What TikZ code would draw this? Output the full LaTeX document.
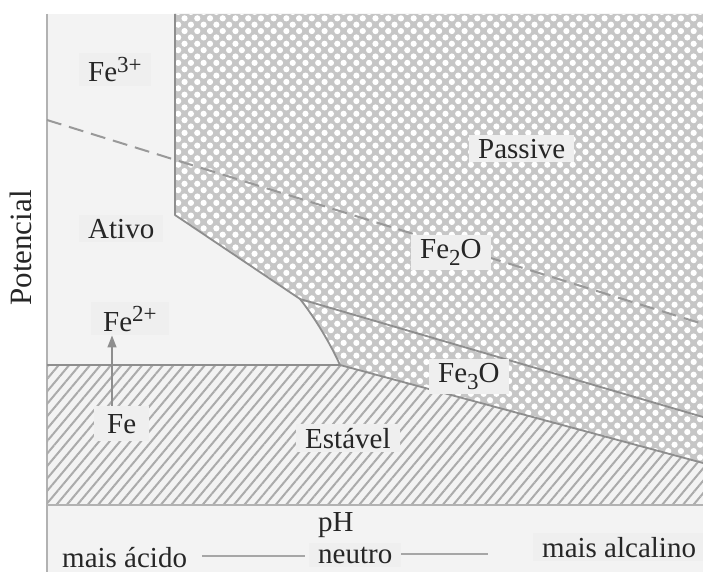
\documentclass[tikz,border=0pt]{standalone}
\usepackage{fontspec}
\setmainfont{Liberation Serif}
\usetikzlibrary{patterns.meta,arrows.meta}
\definecolor{framebg}{HTML}{F3F3F3}
\definecolor{xhbg}{HTML}{C6C6C6}
\definecolor{hatchc}{HTML}{ABABAB}
\definecolor{edgec}{HTML}{8E8E8E}
\definecolor{labbg}{HTML}{EFEFEF}
\newcommand{\supx}[1]{\raisebox{0.34em}{\fontsize{23}{23}\selectfont #1}}
\newcommand{\subx}[1]{\raisebox{-0.26em}{\fontsize{23}{23}\selectfont #1}}
\begin{document}
\begin{tikzpicture}[x=1pt,y=-1pt,
  lab/.style={fill=labbg, inner xsep=9pt, inner ysep=4pt, anchor=base west,
    font=\fontsize{29}{33}\selectfont, text=black!85},
  edge/.style={draw=edgec, line width=1.8pt, line join=round},
  arr/.style={draw=edgec, line width=1.6pt, -{Triangle[width=9pt,length=12pt]}}]
\useasboundingbox (0,0) rectangle (703,572);
\fill[white] (0,0) rectangle (703,572);
% frame background
\fill[framebg] (47,14) rectangle (703,572);
\draw[draw=black!30, line width=2pt] (47,14) -- (47,572);
% passive (cross-hatched) region
\path[fill=xhbg] (175,14) -- (703,14) -- (703,463) -- (340,365)
  .. controls (330,343) and (315,318) .. (300,299) -- (175,215) -- cycle;
\path[pattern={Dots[radius=3.1pt,distance=9pt,angle=45]}, pattern color=white]
  (175,14) -- (703,14) -- (703,463) -- (340,365)
  .. controls (330,343) and (315,318) .. (300,299) -- (175,215) -- cycle;
% stable (hatched) region
\path[pattern={Lines[angle=50,distance=8pt,line width=2pt]}, pattern color=hatchc]
  (47,365) -- (340,365) -- (703,463) -- (703,505) -- (47,505) -- cycle;
% boundaries
\coordinate (p1) at (175,14);
\coordinate (p2) at (175,215);
\coordinate (p3) at (300,299);
\coordinate (p4) at (340,365);
\coordinate (p5) at (703,463);
\coordinate (p6) at (703,417);
\coordinate (h1) at (47,365);
\coordinate (b1) at (47,505);
\coordinate (b2) at (703,505);
\coordinate (d1) at (47,120);
\coordinate (d2) at (703,324);
\draw[edge] (p1) -- (p2) -- (p3) .. controls (315,318) and (330,343) .. (p4) -- (p5);
\draw[edge] (h1) -- (p4);
\draw[edge] (p3) -- (p6);
\draw[draw=black!30, line width=2pt] (b1) -- (b2);
\draw[draw=black!40, line width=2pt, dash pattern=on 15pt off 8pt] (d1) -- (d2);
% labels
\node[lab] (fe3) at (79,82) {Fe\supx{3+}};
\node[lab] (ativo) at (79,238) {Ativo};
\node[lab] (passive) at (469,158) {Passive};
\node[lab] (fe2o) at (411,258) {Fe\subx{2}O};
\node[lab, inner xsep=12pt] (fe2) at (91,331) {Fe\supx{2+}};
\node[lab, inner xsep=13pt, inner ysep=8pt] (fe) at (94,433) {Fe};
\node[lab] (estavel) at (296,448) {Estável};
\node[lab] (fe3o) at (429,382) {Fe\subx{3}O};
\node[lab, fill=framebg] (ph) at (309,531) {pH};
\node[lab, fill=labbg] (neutro) at (309,563) {neutro};
\node[lab, fill=framebg] (acido) at (53,567) {mais ácido};
\node[lab] (alcalino) at (533,557) {mais alcalino};
\node[rotate=90, font=\fontsize{31}{35}\selectfont, text=black!85] (pot) at (21,248) {Potencial};
% pH scale lines
\draw[draw=black!35, line width=2.5pt] ([xshift=6pt]acido.east |- 0,556) -- ([xshift=-4pt]neutro.west |- 0,556);
\draw[draw=black!35, line width=2.5pt] (neutro.east |- 0,554) -- (488,554);
% arrow Fe -> Fe2+
\coordinate (ax) at (112,0);
\draw[arr] (fe.north -| ax) -- (fe2.south -| ax);
\end{tikzpicture}
\end{document}
